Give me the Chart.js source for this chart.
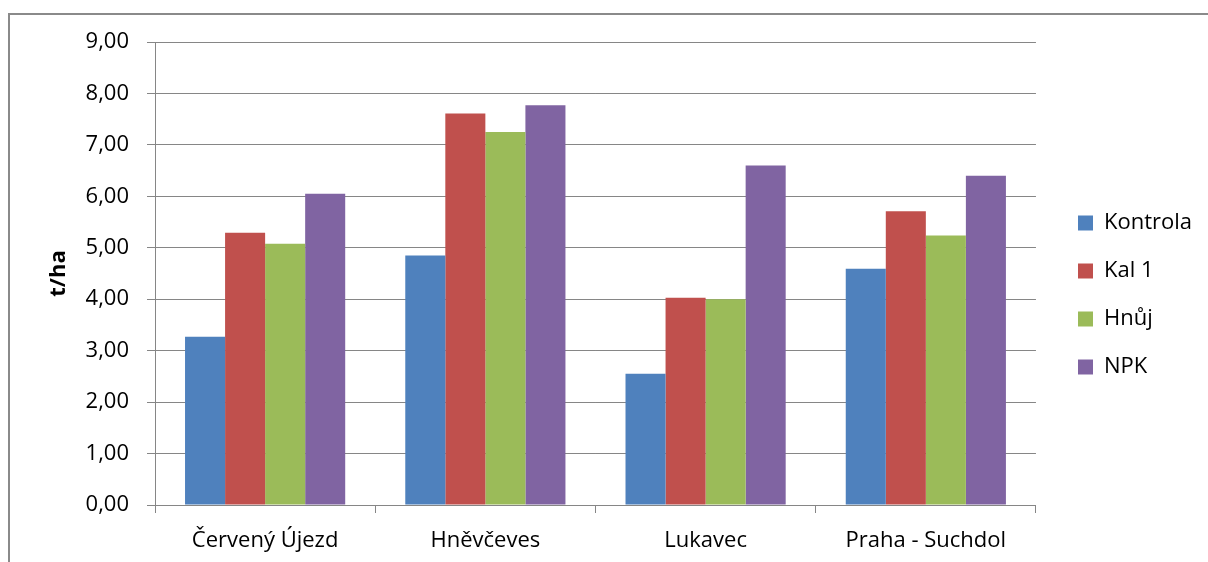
<!DOCTYPE html>
<html lang="cs">
<head>
<meta charset="utf-8">
<title>Výnos podle lokality a hnojení</title>
<script src="https://cdn.jsdelivr.net/npm/chart.js@4/dist/chart.umd.min.js"></script>
<style>
  html, body { margin: 0; padding: 0; background: #ffffff; }
  #wrap { position: relative; width: 1208px; height: 562px; }
</style>
</head>
<body>
<div id="wrap"><canvas id="chart" width="1208" height="562"></canvas></div>
<script>
// Lokality (kategorie na ose x)
const locations = ['Červený Újezd', 'Hněvčeves', 'Lukavec', 'Praha - Suchdol'];

// Výnosy v t/ha pro jednotlivé varianty hnojení
const kontrola = [3.27, 4.85, 2.55, 4.59];
const kal1     = [5.29, 7.61, 4.03, 5.71];
const hnuj     = [5.08, 7.25, 4.00, 5.24];
const npk      = [6.05, 7.77, 6.60, 6.40];

const seriesNames = ['Kontrola', 'Kal 1', 'Hnůj', 'NPK'];
const seriesColors = ['#4F81BD', '#C0504D', '#9BBB59', '#8064A2'];
const seriesValues = [kontrola, kal1, hnuj, npk];

// Osa y
const yMin = 0, yMax = 9, yStep = 1;
const yTitle = 't/ha';

const FONT = '"Open Sans", Lato, sans-serif';
const FONT_SIZE = 22;
const GRID = '#868686';
const LEGEND_PAD = 26;

// Rámeček grafu (levá a horní hrana)
const frame = {
  id: 'frame',
  beforeDraw(chart) {
    const c = chart.ctx;
    c.save();
    c.strokeStyle = '#8a8a8a';
    c.lineWidth = 2;
    c.beginPath();
    c.moveTo(9, chart.height);
    c.lineTo(9, 14);
    c.lineTo(chart.width, 14);
    c.stroke();
    c.restore();
  }
};

// Umístění legendy vpravo od plochy grafu
const legendPlace = {
  id: 'legendPlace',
  afterLayout(chart) {
    const lg = chart.legend;
    if (!lg) return;
    const w = lg.right - lg.left, h = lg.bottom - lg.top;
    lg.left = 1078 - LEGEND_PAD;
    lg.right = lg.left + w;
    lg.top = 186;
    lg.bottom = lg.top + h;
  }
};

new Chart(document.getElementById('chart'), {
  type: 'bar',
  data: {
    labels: locations,
    datasets: seriesValues.map((vals, i) => ({
      label: seriesNames[i],
      data: vals,
      backgroundColor: seriesColors[i],
      borderWidth: 0,
      categoryPercentage: 160 / 220,
      barPercentage: 1.0
    }))
  },
  options: {
    responsive: false,
    animation: false,
    devicePixelRatio: 1,
    layout: { padding: { left: 10, top: 42, right: 22, bottom: 0 } },
    plugins: {
      tooltip: { enabled: false },
      legend: {
        position: 'right',
        align: 'start',
        labels: {
          boxWidth: 15,
          boxHeight: 15,
          padding: LEGEND_PAD,
          color: '#000000',
          font: { family: FONT, size: FONT_SIZE }
        }
      }
    },
    scales: {
      x: {
        offset: true,
        grid: {
          offset: true,
          drawOnChartArea: false,
          drawTicks: true,
          tickLength: 8,
          color: GRID,
          lineWidth: 1
        },
        border: { color: GRID, width: 1 },
        ticks: {
          color: '#000000',
          padding: 15,
          font: { family: FONT, size: FONT_SIZE },
          maxRotation: 0
        },
        afterFit(scale) { scale.height = 57; }
      },
      y: {
        min: yMin,
        max: yMax,
        grid: {
          color: GRID,
          lineWidth: 1,
          drawTicks: true,
          tickLength: 8
        },
        border: { color: GRID, width: 1 },
        ticks: {
          stepSize: yStep,
          color: '#000000',
          padding: 18,
          font: { family: FONT, size: FONT_SIZE },
          callback: v => v.toFixed(2).replace('.', ',')
        },
        title: {
          display: true,
          text: yTitle,
          color: '#000000',
          font: { family: FONT, size: FONT_SIZE, weight: 'bold' },
          padding: { top: 36, bottom: 0 }
        },
        afterFit(scale) { scale.width = 145; }
      }
    }
  },
  plugins: [frame, legendPlace]
});
</script>
</body>
</html>
